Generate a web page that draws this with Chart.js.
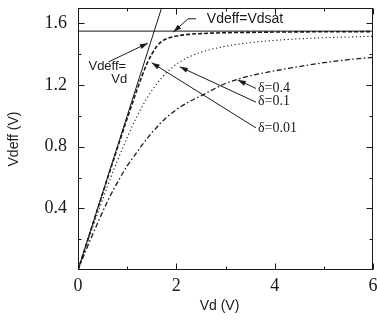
<!DOCTYPE html>
<html>
<head>
<meta charset="utf-8">
<script src="https://cdn.jsdelivr.net/npm/chart.js@4/dist/chart.umd.min.js"></script>
<style>
  html, body { margin: 0; padding: 0; background: #fff; }
  #wrap { width: 377px; height: 323px; }
</style>
</head>
<body>
<div id="wrap"><canvas id="c" width="377" height="323"></canvas></div>
<script>
// Drain voltage samples (V)
const vd = [0, 0.2, 0.4, 0.6, 0.8, 1.0, 1.2, 1.3, 1.4, 1.5, 1.6, 1.7, 1.8, 2.0, 2.25, 2.5, 3.0, 3.5, 4.0, 4.5, 5.0, 5.5, 6.0];
// Effective drain voltage for each smoothing parameter delta (V)
const vdeffD001 = [0, 0.198, 0.397, 0.594, 0.790, 0.983, 1.169, 1.257, 1.337, 1.400, 1.450, 1.482, 1.500, 1.518, 1.529, 1.534, 1.540, 1.542, 1.544, 1.545, 1.546, 1.546, 1.547];
const vdeffD01  = [0, 0.186, 0.368, 0.543, 0.708, 0.860, 0.998, 1.058, 1.113, 1.163, 1.207, 1.247, 1.281, 1.335, 1.381, 1.413, 1.452, 1.475, 1.490, 1.500, 1.507, 1.512, 1.516];
const vdeffD04  = [0, 0.157, 0.305, 0.445, 0.567, 0.675, 0.765, 0.810, 0.850, 0.890, 0.925, 0.960, 0.990, 1.040, 1.090, 1.130, 1.210, 1.260, 1.292, 1.320, 1.345, 1.365, 1.380];
// Saturation voltage and the ideal linear region
const vdsat = 1.55;
const linVd = [0, 2];
// Axis ticks
const xMajor = [0, 2, 4, 6];
const xMinor = [1, 3, 5];
const yMajor = [0.4, 0.8, 1.2, 1.6];
const yMinor = [0.2, 0.6, 1.0, 1.4];

const pts = (xs, ys) => xs.map((v, i) => ({ x: v, y: ys[i] }));

const SERIF = '"Liberation Serif", "Times New Roman", serif';
const SANS = '"Liberation Sans", Arial, sans-serif';
const INK = '#1a1a1a';

// Text labels and leader arrows, placed in data units
const notes = [
  { text: 'Vdeff=Vdsat', x: 2.62, y: 1.625, align: 'left', font: '14px ' + SANS },
  { text: 'Vdeff=', x: 0.98, y: 1.322, align: 'right', font: '13px ' + SANS },
  { text: 'Vd', x: 1.0, y: 1.238, align: 'right', font: '13px ' + SANS },
  { text: 'δ=0.4', x: 3.66, y: 1.178, align: 'left', font: '14px ' + SERIF },
  { text: 'δ=0.1', x: 3.66, y: 1.092, align: 'left', font: '14px ' + SERIF },
  { text: 'δ=0.01', x: 3.66, y: 0.922, align: 'left', font: '14px ' + SERIF }
];
const arrows = [
  { path: [[2.40, 1.630], [2.24, 1.630], [1.94, 1.545]] },
  { path: [[0.62, 1.350], [1.42, 1.472]] },
  { path: [[3.62, 1.178], [3.25, 1.233]] },
  { path: [[3.62, 1.089], [2.07, 1.318]] },
  { path: [[3.62, 0.922], [1.50, 1.345]] }
];

const decor = {
  id: 'decor',
  afterDatasetsDraw(chart) {
    const { ctx, chartArea: a, scales: { x, y } } = chart;
    const L = Math.round(a.left) + 0.5, R = Math.round(a.right) - 0.5;
    const T = Math.round(a.top) + 0.5, B = Math.round(a.bottom) - 0.5;
    ctx.save();
    ctx.strokeStyle = INK;
    ctx.lineWidth = 1;
    ctx.strokeRect(L, T, R - L, B - T);
    ctx.beginPath();
    const xt = (vals, len) => vals.forEach(v => {
      const px = Math.round(x.getPixelForValue(v)) + 0.5;
      ctx.moveTo(px, B); ctx.lineTo(px, B - len);
      ctx.moveTo(px, T); ctx.lineTo(px, T + len);
    });
    const yt = (vals, len) => vals.forEach(v => {
      const py = Math.round(y.getPixelForValue(v)) + 0.5;
      ctx.moveTo(L, py); ctx.lineTo(L + len, py);
      ctx.moveTo(R, py); ctx.lineTo(R - len, py);
    });
    xt(xMajor, 6); xt(xMinor, 3);
    yt(yMajor, 6); yt(yMinor, 3);
    ctx.stroke();

    // leader arrows
    arrows.forEach(ar => {
      const p = ar.path.map(([vx, vy]) => [x.getPixelForValue(vx), y.getPixelForValue(vy)]);
      ctx.beginPath();
      ctx.moveTo(p[0][0], p[0][1]);
      for (let i = 1; i < p.length; i++) ctx.lineTo(p[i][0], p[i][1]);
      ctx.lineWidth = 1;
      ctx.stroke();
      const [x1, y1] = p[p.length - 2], [x2, y2] = p[p.length - 1];
      const ang = Math.atan2(y2 - y1, x2 - x1);
      const hl = 8, hw = 2.6;
      ctx.beginPath();
      ctx.moveTo(x2, y2);
      ctx.lineTo(x2 - hl * Math.cos(ang) + hw * Math.sin(ang), y2 - hl * Math.sin(ang) - hw * Math.cos(ang));
      ctx.lineTo(x2 - hl * Math.cos(ang) - hw * Math.sin(ang), y2 - hl * Math.sin(ang) + hw * Math.cos(ang));
      ctx.closePath();
      ctx.fillStyle = INK;
      ctx.fill();
    });

    // text labels
    ctx.fillStyle = INK;
    ctx.textBaseline = 'middle';
    notes.forEach(n => {
      ctx.font = n.font;
      ctx.textAlign = n.align;
      ctx.fillText(n.text, x.getPixelForValue(n.x), y.getPixelForValue(n.y));
    });

    // x-axis title
    ctx.font = '14px ' + SANS;
    ctx.textAlign = 'center';
    ctx.fillText('Vd (V)', (a.left + a.right) / 2 - 6, 306);
    ctx.restore();
  }
};

new Chart(document.getElementById('c'), {
  type: 'scatter',
  data: {
    datasets: [
      { label: 'Vdeff=Vdsat', data: pts([0, 6], [vdsat, vdsat]), showLine: true, borderColor: INK, borderWidth: 1, pointRadius: 0 },
      { label: 'Vdeff=Vd', data: pts(linVd, linVd), showLine: true, borderColor: INK, borderWidth: 1, pointRadius: 0 },
      { label: 'δ=0.01', data: pts(vd, vdeffD001), showLine: true, borderColor: INK, borderWidth: 1.6, borderDash: [4, 2], pointRadius: 0, cubicInterpolationMode: 'monotone' },
      { label: 'δ=0.1', data: pts(vd, vdeffD01), showLine: true, borderColor: INK, borderWidth: 1.1, borderDash: [1.2, 2.6], pointRadius: 0, cubicInterpolationMode: 'monotone' },
      { label: 'δ=0.4', data: pts(vd, vdeffD04), showLine: true, borderColor: INK, borderWidth: 1.3, borderDash: [5, 2.5, 1.5, 2.5], pointRadius: 0, cubicInterpolationMode: 'monotone' }
    ]
  },
  options: {
    responsive: false,
    animation: false,
    devicePixelRatio: 1,
    layout: { padding: { top: 8, right: 4, left: 0, bottom: 0 } },
    plugins: { legend: { display: false }, tooltip: { enabled: false } },
    scales: {
      x: {
        type: 'linear', min: 0, max: 6,
        grid: { display: false, drawTicks: false },
        border: { display: false },
        afterBuildTicks: s => { s.ticks = xMajor.map(v => ({ value: v })); },
        afterFit: s => { s.height = 53; s.paddingLeft = 0; s.paddingRight = 0; },
        ticks: { font: { family: SERIF, size: 18 }, color: INK, padding: 5, maxRotation: 0, autoSkip: false }
      },
      y: {
        type: 'linear', min: 0, max: 1.70,
        grid: { display: false, drawTicks: false },
        border: { display: false },
        afterBuildTicks: s => { s.ticks = yMajor.map(v => ({ value: v })); },
        afterFit: s => { s.width = 78; s.paddingTop = 0; s.paddingBottom = 0; },
        ticks: { font: { family: SERIF, size: 18 }, color: INK, padding: 11, autoSkip: false, callback: v => v.toFixed(1) },
        title: { display: true, text: 'Vdeff (V)', font: { family: SANS, size: 14 }, color: INK, padding: { top: 6, bottom: 0 } }
      }
    }
  },
  plugins: [decor]
});
</script>
</body>
</html>
